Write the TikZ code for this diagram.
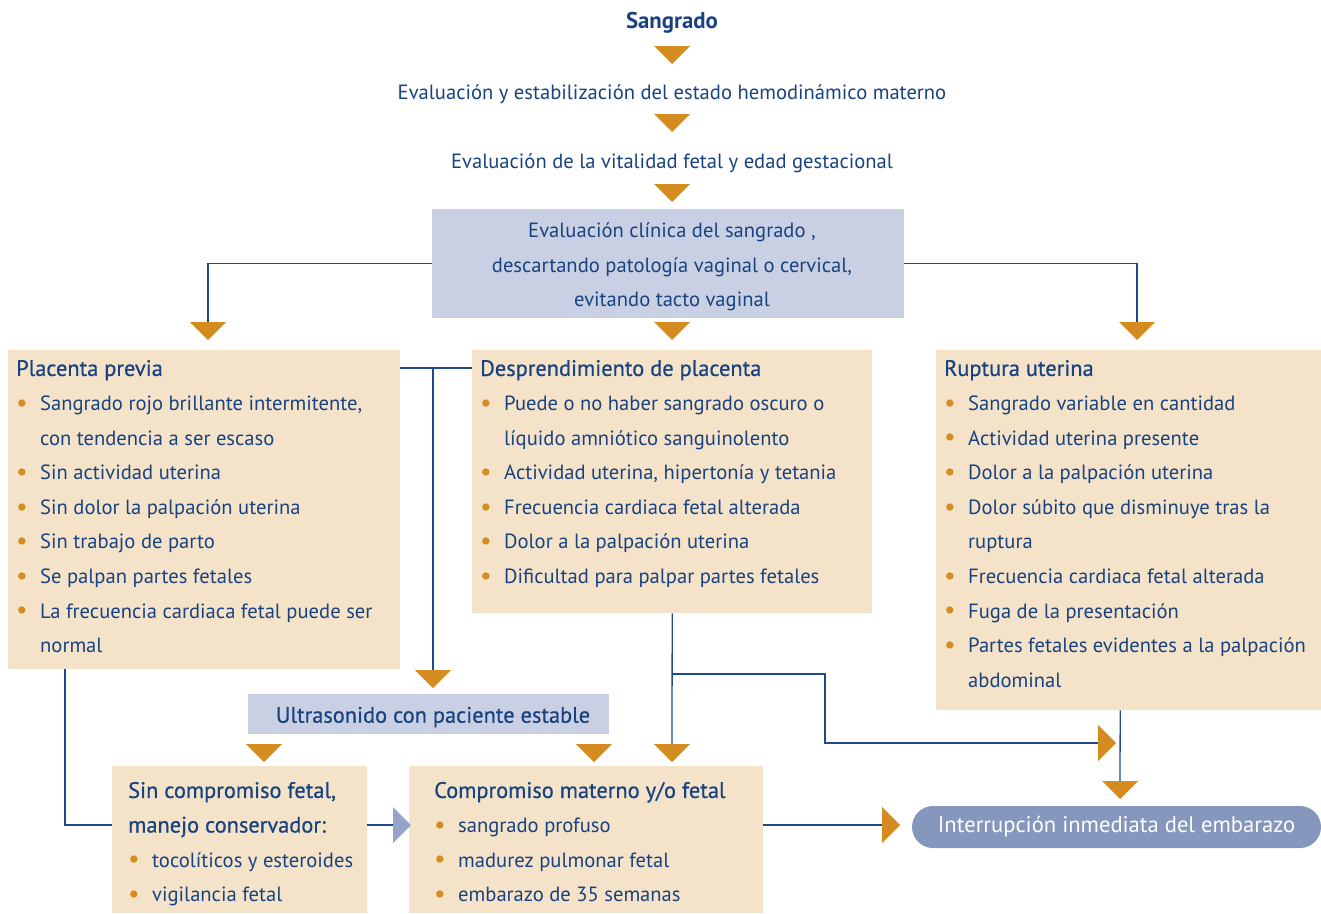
\documentclass[tikz,border=0pt]{standalone}
\usepackage{fontspec}
\setmainfont{PT Sans}
\newfontfamily\semibf[FakeBold=0.6]{PT Sans}
\usetikzlibrary{positioning,calc}
\definecolor{navy}{RGB}{24,66,128}
\definecolor{linec}{RGB}{30,74,140}
\definecolor{amber}{RGB}{212,140,32}
\definecolor{beige}{RGB}{245,227,201}
\definecolor{lav}{RGB}{202,208,228}
\definecolor{pillc}{RGB}{134,151,189}
\definecolor{ltri}{RGB}{148,163,201}
\newcommand{\bodyfont}{\fontsize{20.6pt}{34.6pt}\selectfont}
\newcommand{\headfont}{\fontsize{22.4pt}{34.6pt}\semibf}
\newcommand{\bul}{\makebox[24pt][l]{\raisebox{-0.8pt}{\scalebox{1.25}{\textcolor{amber}{\textbullet}}}}}
\newcommand{\cont}{\hspace*{24pt}}
\newcommand{\tridown}[2][amber]{\fill[#1] (#2) ++(-18,0) -- ++(36,0) -- ++(-18,18) -- cycle;}
\newcommand{\triright}[2][amber]{\fill[#1] (#2) ++(0,-18) -- ++(0,36) -- ++(18,-18) -- cycle;}

\begin{document}
\begin{tikzpicture}[
  x=1pt, y=-1pt,
  font=\bodyfont, text=navy,
  link/.style={draw=linec, line width=1.3pt},
  card/.style={fill=beige, inner sep=0pt, anchor=north west},
  pale/.style={fill=lav, inner sep=0pt},
  body/.style={anchor=north west, inner sep=0pt, align=left},
  pill/.style={fill=pillc, text=white, rounded corners=21pt, minimum width=409pt,
               minimum height=42pt, inner sep=0pt, font=\fontsize{22.6pt}{26pt}\selectfont},
]
\useasboundingbox (0,0) rectangle (1321,913);

% ---- top sequence ----
\node[font=\fontsize{22.8pt}{26pt}\bfseries] (sang) at (672,23) {Sangrado};
\node (hemo) at (672,94) {Evaluación y estabilización del estado hemodinámico materno};
\node (vita) at (672,163) {Evaluación de la vitalidad fetal y edad gestacional};
\node[pale, minimum width=472pt, minimum height=109pt] (clin) at (668,263.5) {};
\node[align=center] at (672,267)
  {Evaluación clínica del sangrado ,\\descartando patología vaginal o cervical,\\evitando tacto vaginal};
\tridown{672,46}
\tridown{672,114}
\tridown{672,184}

% ---- three diagnoses ----
\node[card, minimum width=392pt, minimum height=319pt] (pp) at (8,350) {};
\node[card, minimum width=400pt, minimum height=263pt] (desp) at (472,350) {};
\node[card, minimum width=385pt, minimum height=360pt] (rup) at (936,350) {};

\node[body] at ($(pp.north west)+(8,1.5)$)
  {\strut{\headfont Placenta previa}\\
   \bul Sangrado rojo brillante intermitente,\\
   \cont con tendencia a ser escaso\\
   \bul Sin actividad uterina\\
   \bul Sin dolor la palpación uterina\\
   \bul Sin trabajo de parto\\
   \bul Se palpan partes fetales\\
   \bul La frecuencia cardiaca fetal puede ser\\
   \cont normal};
\node[body] at ($(desp.north west)+(8,1.5)$)
  {\strut{\headfont Desprendimiento de placenta}\\
   \bul Puede o no haber sangrado oscuro o\\
   \cont líquido amniótico sanguinolento\\
   \bul Actividad uterina, hipertonía y tetania\\
   \bul Frecuencia cardiaca fetal alterada\\
   \bul Dolor a la palpación uterina\\
   \bul Dificultad para palpar partes fetales};
\node[body] at ($(rup.north west)+(8,1.5)$)
  {\strut{\headfont Ruptura uterina}\\
   \bul Sangrado variable en cantidad\\
   \bul Actividad uterina presente\\
   \bul Dolor a la palpación uterina\\
   \bul Dolor súbito que disminuye tras la\\
   \cont ruptura\\
   \bul Frecuencia cardiaca fetal alterada\\
   \bul Fuga de la presentación\\
   \bul Partes fetales evidentes a la palpación\\
   \cont abdominal};

\coordinate (tPP) at (208,322);
\coordinate (tDesp) at (672,322);
\coordinate (tRup) at (1137,322);
\draw[link] (clin.west) -| (tPP);
\draw[link] (clin.east) -| (tRup);
\tridown{tPP}
\tridown{tDesp}
\tridown{tRup}

% ---- ultrasound and management ----
\node[pale, minimum width=361pt, minimum height=40pt] (ultra) at (428.5,714) {};
\node at (433,717) {\headfont Ultrasonido con paciente estable};
\node[card, minimum width=255pt, minimum height=147pt] (sinc) at (112,766) {};
\node[card, minimum width=354pt, minimum height=147pt] (comp) at (409,766) {};
\node[pill] (interr) at (1116.5,827) {Interrupción inmediata del embarazo};

\node[body] at ($(sinc.north west)+(16,7.5)$)
  {\strut{\headfont Sin compromiso fetal,}\\
   {\headfont manejo conservador:}\\
   \bul tocolíticos y esteroides\\
   \bul vigilancia fetal};
\node[body] at ($(comp.north west)+(25,7.5)$)
  {\strut{\headfont Compromiso materno y/o fetal}\\
   \bul sangrado profuso\\
   \bul madurez pulmonar fetal\\
   \bul embarazo de 35 semanas};

\coordinate (jPP) at (433,368);
\coordinate (tUltra) at (433,670);
\coordinate (tSinc) at (264,744);
\coordinate (tComp) at (594,744);
\coordinate (tDown) at (672,744);
\coordinate (jD) at (672,674);
\coordinate (kD) at (825,743);
\coordinate (tMerge) at (1098,743);
\coordinate (tInt) at (1120,781);
\coordinate (tSide) at (393,825);
\coordinate (tEnd) at (882,825);

\draw[link] ($(pp.north east)+(0,18)$) -- ($(desp.north west)+(0,18)$);
\draw[link] (jPP) -- (tUltra);
\draw[link] ($(pp.south west)+(57,0)$) |- ($(sinc.north west)+(0,59)$);
\draw[link] ($(sinc.north east)+(0,59)$) -- (tSide);
\draw[link] (desp.south) -- (tDown);
\draw[link] (jD) -| (kD) -- (tMerge);
\draw[link] ($(rup.south)+(-8.5,0)$) -- (tInt);
\draw[link] ($(comp.north east)+(0,59)$) -- (tEnd);
\tridown{tUltra}
\tridown{tSinc}
\tridown{tComp}
\tridown{tDown}
\tridown{tInt}
\triright{tMerge}
\triright{tEnd}
\triright[ltri]{tSide}

\end{tikzpicture}
\end{document}
